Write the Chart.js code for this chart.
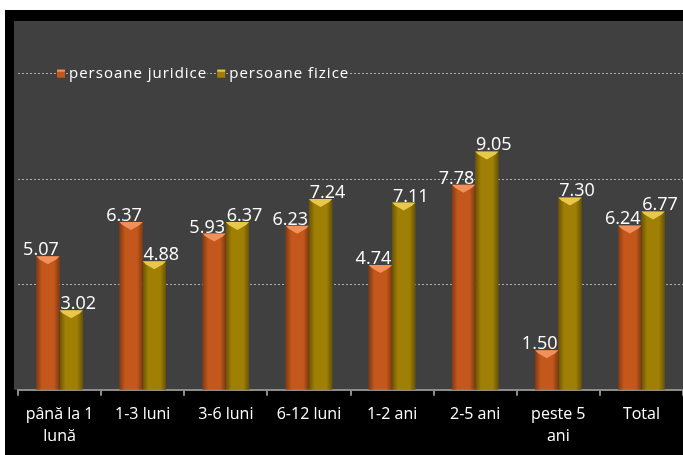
<!DOCTYPE html>
<html>
<head>
<meta charset="utf-8">
<script src="https://cdn.jsdelivr.net/npm/chart.js@4"></script>
<style>
  body { margin: 0; background: #fff; }
  #wrap { position: absolute; left: 5px; top: 10px; width: 678px; height: 445px; background: #000; }
</style>
</head>
<body>
<div id="wrap"><canvas id="chart"></canvas></div>
<script>
const categories = [["până la 1", "lună"], "1-3 luni", "3-6 luni", "6-12 luni", "1-2 ani", "2-5 ani", ["peste 5", "ani"], "Total"];
const juridice = [5.07, 6.37, 5.93, 6.23, 4.74, 7.78, 1.50, 6.24];
const fizice = [3.02, 4.88, 6.37, 7.24, 7.11, 9.05, 7.30, 6.77];
const gridValues = [4, 8, 12];
const seriesNames = ["persoane juridice", "persoane fizice"];

const FONT = "'Open Sans', sans-serif";

// gray plot background
const backdrop = {
    id: "backdrop",
    beforeDraw(chart) {
        const { ctx, chartArea } = chart;
        ctx.save();
        ctx.fillStyle = "#404040";
        ctx.fillRect(chartArea.left - 4, chartArea.top, chart.width - chartArea.left + 4, chartArea.bottom - chartArea.top);
        ctx.restore();
    }
};

// bar shading, value labels and the legend sitting on the top gridline
const bevel = {
    id: "bevel",
    afterDatasetsDraw(chart) {
        const ctx = chart.ctx;
        const tops = ["#f0905a", "#e8c84a"];
        const labelShift = [-7, 7];
        ctx.save();
        chart.data.datasets.forEach((ds, i) => {
            chart.getDatasetMeta(i).data.forEach((bar, j) => {
                const w = bar.width, l = bar.x - w / 2, r = bar.x + w / 2;
                const g = ctx.createLinearGradient(l, 0, r, 0);
                g.addColorStop(0, "rgba(0,0,0,0.35)");
                g.addColorStop(0.25, "rgba(0,0,0,0)");
                g.addColorStop(0.75, "rgba(0,0,0,0)");
                g.addColorStop(1, "rgba(0,0,0,0.35)");
                ctx.fillStyle = g;
                ctx.fillRect(l, bar.y, w, bar.base - bar.y);
                ctx.fillStyle = tops[i];
                ctx.beginPath();
                ctx.moveTo(l, bar.y);
                ctx.lineTo(r, bar.y);
                ctx.lineTo(r - 3, bar.y + 3);
                ctx.lineTo(bar.x, bar.y + 8);
                ctx.lineTo(l + 3, bar.y + 3);
                ctx.closePath();
                ctx.fill();
                ctx.fillStyle = "#ffffff";
                ctx.font = "18px " + FONT;
                ctx.textAlign = "center";
                ctx.textBaseline = "alphabetic";
                ctx.fillText(ds.data[j].toFixed(2), bar.x + labelShift[i], bar.y - 1);
            });
        });
        const y = chart.scales.y.getPixelForValue(12);
        const colors = ["#c4581c", "#a07f05"];
        let x = 52;
        ctx.font = "15px " + FONT;
        ctx.letterSpacing = "1px";
        ctx.textAlign = "left";
        ctx.textBaseline = "middle";
        seriesNames.forEach((name, i) => {
            const tw = ctx.measureText(name).width;
            ctx.fillStyle = "#404040";
            ctx.fillRect(x - 1, y - 6, 10, 12);
            ctx.fillRect(x + 12, y - 10, tw, 20);
            ctx.fillStyle = colors[i];
            ctx.fillRect(x, y - 4, 8, 8);
            ctx.fillStyle = tops[i];
            ctx.fillRect(x, y - 4, 8, 2);
            ctx.fillStyle = "#ffffff";
            ctx.fillText(name, x + 12, y);
            x += tw + 22;
        });
        ctx.restore();
    }
};

new Chart(document.getElementById("chart"), {
    type: "bar",
    data: {
        labels: categories,
        datasets: [
            { label: seriesNames[0], data: juridice, backgroundColor: "#c4581c" },
            { label: seriesNames[1], data: fizice, backgroundColor: "#a07f05" }
        ]
    },
    options: {
        responsive: true,
        maintainAspectRatio: false,
        animation: false,
        layout: { padding: { left: 13, top: 11, right: 0, bottom: 0 } },
        datasets: { bar: { barPercentage: 1, categoryPercentage: 0.56 } },
        plugins: { legend: { display: false }, tooltip: { enabled: false } },
        scales: {
            x: {
                grid: { display: true, drawOnChartArea: false, offset: true, color: "#8c8c8c", lineWidth: 2, tickLength: 6 },
                border: { color: "#8c8c8c", width: 2 },
                ticks: { color: "#ffffff", font: { family: FONT, size: 16, lineHeight: 1.35 }, padding: 8, maxRotation: 0, autoSkip: false }
            },
            y: {
                min: 0,
                max: 14,
                afterBuildTicks: scale => { scale.ticks = gridValues.map(v => ({ value: v })); },
                ticks: { display: false },
                border: { display: false, dash: [2, 2] },
                grid: { color: "rgba(200,200,200,0.8)", drawTicks: false, lineWidth: 1 }
            }
        }
    },
    plugins: [backdrop, bevel]
});
</script>
</body>
</html>
